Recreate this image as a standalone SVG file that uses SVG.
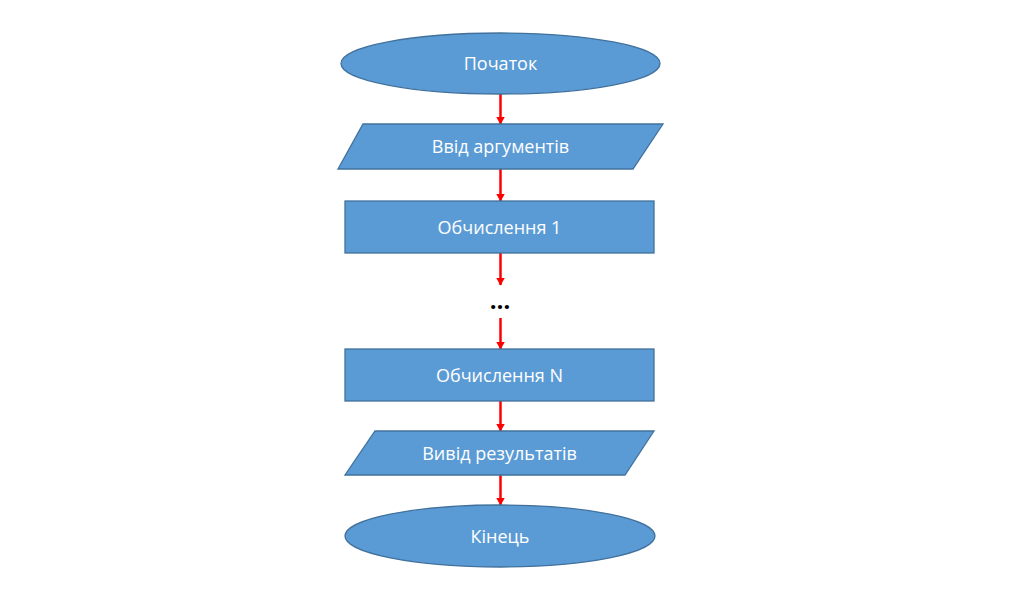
<svg xmlns="http://www.w3.org/2000/svg" width="1036" height="612" viewBox="0 0 1036 612">
<defs>
<style>
.shape{fill:#5B9BD5;stroke:#41719C;stroke-width:1.3}
.lbl{fill:#FFFFFF;font-family:"Open Sans","Liberation Sans",sans-serif;font-size:18px;text-anchor:middle;dominant-baseline:central}
.conn{stroke:#FF0000;stroke-width:2.5;fill:none;marker-end:url(#ah)}
</style>
<marker id="ah" markerWidth="4" markerHeight="4" refX="3" refY="2" orient="auto" markerUnits="strokeWidth">
<path d="M0,0.2 L3.2,2 L0,3.8 Z" fill="#FF0000"/>
</marker>
</defs>
<rect width="1036" height="612" fill="#FFFFFF"/>
<g id="connectors">
<line class="conn" x1="500.5" y1="94" x2="500.5" y2="124"/>
<line class="conn" x1="500.5" y1="169" x2="500.5" y2="201"/>
<line class="conn" x1="500.5" y1="253" x2="500.5" y2="285"/>
<line class="conn" x1="500.5" y1="318" x2="500.5" y2="349"/>
<line class="conn" x1="500.5" y1="401" x2="500.5" y2="431"/>
<line class="conn" x1="500.5" y1="475" x2="500.5" y2="505"/>
</g>
<g id="start">
<ellipse class="shape" cx="500.5" cy="63.5" rx="159.5" ry="30.5"/>
<text class="lbl" x="500.5" y="63">Початок</text>
</g>
<g id="input">
<polygon class="shape" points="363,124 663,124 633,169 338,169"/>
<text class="lbl" x="500.5" y="146">Ввід аргументів</text>
</g>
<g id="calc1">
<rect class="shape" x="345" y="201" width="309" height="52"/>
<text class="lbl" x="499.5" y="226.5">Обчислення 1</text>
</g>
<g id="ellipsis">
<text x="500" y="299" font-family="'Open Sans','Liberation Sans',sans-serif" font-size="24" font-weight="bold" fill="#000000" text-anchor="middle" dominant-baseline="central">…</text>
</g>
<g id="calcN">
<rect class="shape" x="345" y="349" width="309" height="52"/>
<text class="lbl" x="499.5" y="374.5">Обчислення N</text>
</g>
<g id="output">
<polygon class="shape" points="375,431 654,431 625,475 345,475"/>
<text class="lbl" x="499.5" y="452.5">Вивід результатів</text>
</g>
<g id="end">
<ellipse class="shape" cx="500" cy="536" rx="155" ry="31"/>
<text class="lbl" x="500" y="535.5">Кінець</text>
</g>
</svg>
